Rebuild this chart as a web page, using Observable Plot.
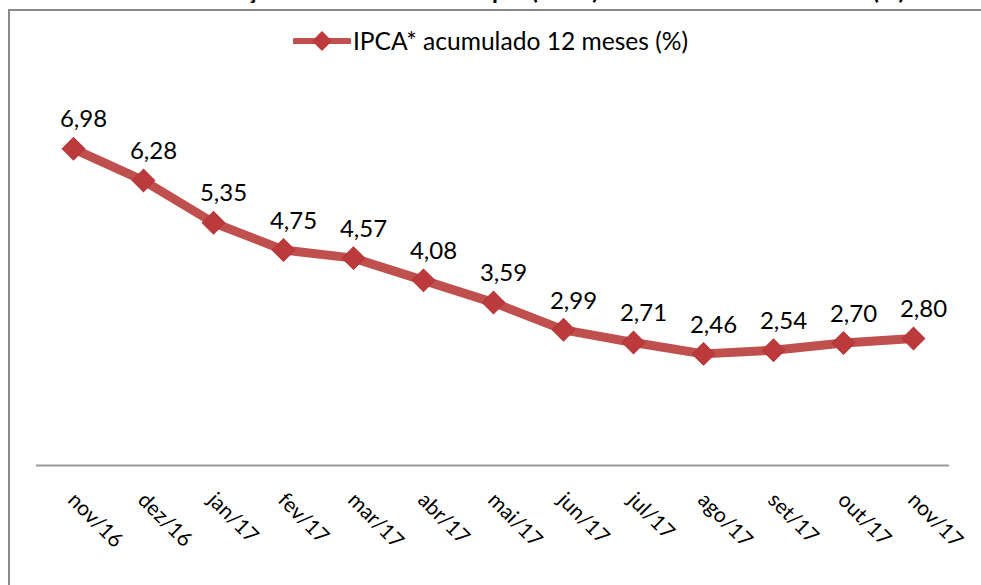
<!DOCTYPE html>
<html>
<head>
<meta charset="utf-8">
<script src="https://cdn.jsdelivr.net/npm/d3@7"></script>
<script src="https://cdn.jsdelivr.net/npm/@observablehq/plot@0.6"></script>
<style>
  html, body { margin: 0; padding: 0; background: #fff; width: 981px; height: 585px; overflow: hidden; font-family: Lato, "Open Sans", sans-serif; }
  #title { position: absolute; left: 0; top: 0; width: 981px; height: 8px; overflow: hidden; }
  #title span { position: absolute; left: 0; width: 981px; text-align: center; top: -25px; font-weight: bold; font-size: 24px; color: #000; white-space: nowrap; }
  #frame { position: absolute; left: 8px; top: 9px; width: 1000px; height: 600px; border-left: 2px solid #8a8a8a; border-top: 2px solid #8a8a8a; }
  #legend { position: absolute; left: 0; top: 11px; width: 981px; height: 59px; display: flex; align-items: center; justify-content: center; font-size: 24.6px; color: #000; }
  #legend svg { margin-right: 2px; }
  #chart { position: absolute; left: 0; top: 70px; }
  #chart svg { background: transparent !important; }
</style>
</head>
<body>
<div id="title"><span>Gráfico 3 – Inflação ao Consumidor Amplo (IPCA) acumulado em 12 meses (%)</span></div>
<div id="frame"></div>
<div id="legend"></div>
<div id="chart"></div>
<script>
const months = ["nov/16","dez/16","jan/17","fev/17","mar/17","abr/17","mai/17","jun/17","jul/17","ago/17","set/17","out/17","nov/17"];
const ipca = [6.98, 6.28, 5.35, 4.75, 4.57, 4.08, 3.59, 2.99, 2.71, 2.46, 2.54, 2.70, 2.80];
const seriesName = "IPCA* acumulado 12 meses (%)";

const lineColor = "#c0504d";
const markColor = "#bd3a3c";

const data = months.map((m, i) => ({month: m, value: ipca[i]}));
const fmt = v => v.toFixed(2).replace(".", ",");

// legend
const leg = document.getElementById("legend");
leg.innerHTML = `<svg width="58" height="26" viewBox="0 0 58 26">
  <line x1="2" y1="13" x2="56" y2="13" stroke="${lineColor}" stroke-width="6" stroke-linecap="round"/>
  <path d="M29 3 L39 13 L29 23 L19 13 Z" fill="${markColor}"/>
</svg><span>${seriesName}</span>`;

const chart = Plot.plot({
  width: 981,
  height: 515,
  marginLeft: 36,
  marginRight: 32,
  marginTop: 32,
  marginBottom: 120,
  x: {type: "point", domain: months, padding: 0.5, label: null},
  y: {domain: [0, 8], axis: null},
  style: {fontFamily: "Lato, 'Open Sans', sans-serif", color: "#000", background: "transparent"},
  marks: [
    Plot.ruleY([0], {stroke: "#9a9a9a", strokeWidth: 2}),
    Plot.axisX({
      tickSize: 0,
      tickRotate: 45,
      tickPadding: 31,
      fontSize: 21,
      fill: "#000",
      dx: -2,
      label: null
    }),
    Plot.line(data, {x: "month", y: "value", stroke: lineColor, strokeWidth: 9, strokeLinejoin: "round",
      style: "filter: drop-shadow(1px 2px 1.5px rgba(0,0,0,0.25))"}),
    Plot.dot(data, {x: "month", y: "value", symbol: "square", rotate: 45, r: 9, fill: markColor, stroke: "#b33436", strokeWidth: 1}),
    Plot.text(data, {x: "month", y: "value", text: d => fmt(d.value), dy: -29, dx: 10, fontSize: 24, fill: "#000"})
  ]
});
document.getElementById("chart").appendChild(chart);
</script>
</body>
</html>
